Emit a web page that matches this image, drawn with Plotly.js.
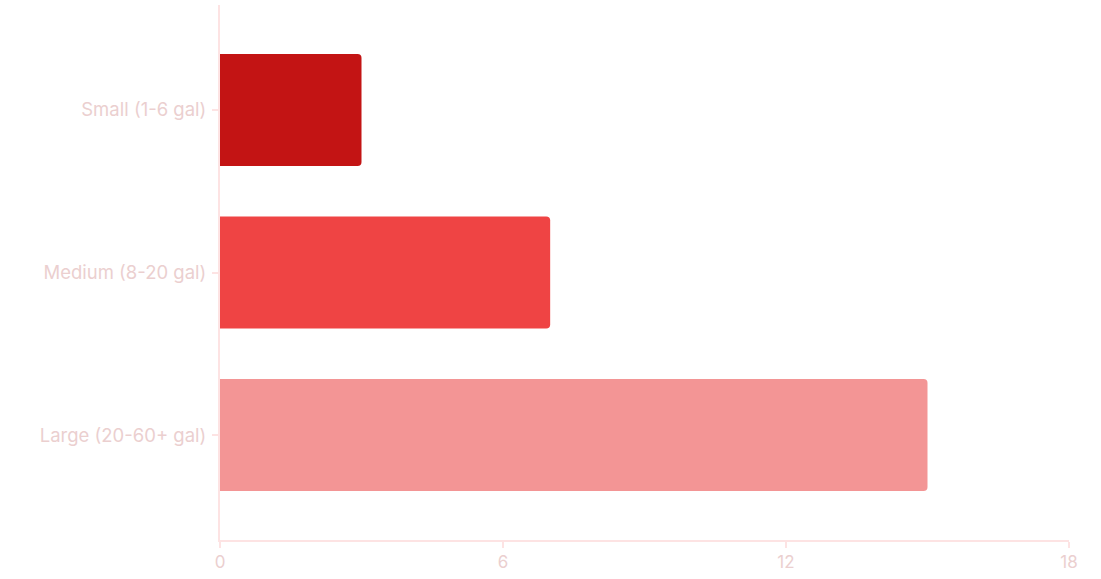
<!DOCTYPE html>
<html>
<head>
<meta charset="utf-8">
<script src="https://cdn.plot.ly/plotly-3.0.1.min.js"></script>
<style>
  html, body { margin: 0; padding: 0; background: #fff; }
  #chart { width: 1101px; height: 579px; }
</style>
</head>
<body>
<div id="chart"></div>
<script>
    // tank sizes and counts
    var tankSizes = [ 'Small (1-6 gal)', 'Medium (8-20 gal)', 'Large (20-60+ gal)' ];
    var tankCounts = [ 3, 7, 15 ];
    var barColors = [ '#c31414', '#ef4444', '#f39595' ];
    var xTicks = [ 0, 6, 12, 18 ];

    var axisColor = '#fde3e3';
    var labelColor = '#ebcfcf';

    var data = [ {
        type: 'bar',
        orientation: 'h',
        y: tankSizes,
        x: tankCounts,
        marker: { color: barColors, line: { width: 0 } },
        hoverinfo: 'x+y'
    } ];

    var layout = {
        width: 1101,
        height: 579,
        margin: { l: 220, r: 32, t: 5, b: 39 },
        paper_bgcolor: '#ffffff',
        plot_bgcolor: '#ffffff',
        showlegend: false,
        bargap: 0.31,
        barcornerradius: 4,
        font: { family: 'Inter, "Noto Sans", sans-serif', size: 18, color: labelColor },
        xaxis: {
            range: [ 0, 18 ],
            tickvals: xTicks,
            ticktext: xTicks.map( String ),
            showgrid: false,
            zeroline: false,
            showline: true,
            linecolor: axisColor,
            linewidth: 2,
            ticks: 'outside',
            ticklen: 6,
            tickwidth: 2,
            tickcolor: axisColor,
            tickfont: { size: 17, color: labelColor }
        },
        yaxis: {
            range: [ 2.646, -0.646 ],
            showgrid: false,
            zeroline: false,
            showline: true,
            linecolor: axisColor,
            linewidth: 2,
            ticks: 'outside',
            ticklen: 6,
            tickwidth: 2,
            tickcolor: axisColor,
            ticklabelstandoff: 2,
            tickfont: { size: 18.5, color: labelColor }
        }
    };

    Plotly.newPlot( 'chart', data, layout, { displayModeBar: false, staticPlot: true } );
</script>
</body>
</html>
